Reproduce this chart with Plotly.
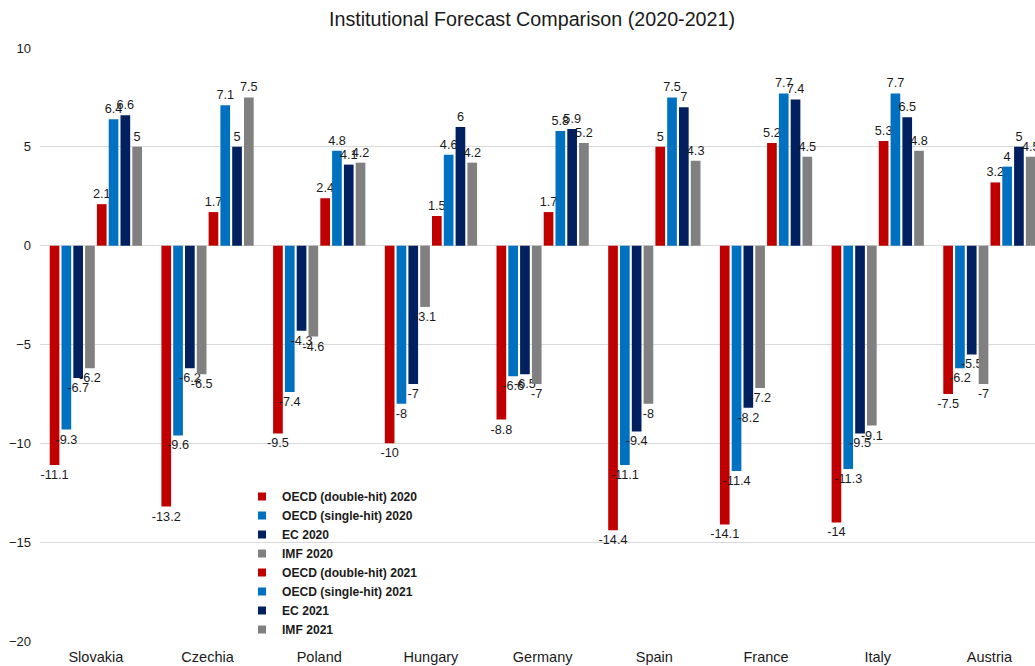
import plotly.graph_objects as go

countries = ["Slovakia", "Czechia", "Poland", "Hungary", "Germany", "Spain", "France", "Italy", "Austria"]

oecd_dh_2020 = [-11.1, -13.2, -9.5, -10, -8.8, -14.4, -14.1, -14, -7.5]
oecd_sh_2020 = [-9.3, -9.6, -7.4, -8, -6.6, -11.1, -11.4, -11.3, -6.2]
ec_2020 = [-6.7, -6.2, -4.3, -7, -6.5, -9.4, -8.2, -9.5, -5.5]
imf_2020 = [-6.2, -6.5, -4.6, -3.1, -7, -8, -7.2, -9.1, -7]
oecd_dh_2021 = [2.1, 1.7, 2.4, 1.5, 1.7, 5, 5.2, 5.3, 3.2]
oecd_sh_2021 = [6.4, 7.1, 4.8, 4.6, 5.8, 7.5, 7.7, 7.7, 4]
ec_2021 = [6.6, 5, 4.1, 6, 5.9, 7, 7.4, 6.5, 5]
imf_2021 = [5, 7.5, 4.2, 4.2, 5.2, 4.3, 4.5, 4.8, 4.5]

series = [
    ("OECD (double-hit) 2020", oecd_dh_2020, "#C00000"),
    ("OECD (single-hit) 2020", oecd_sh_2020, "#0070C0"),
    ("EC 2020", ec_2020, "#002060"),
    ("IMF 2020", imf_2020, "#808080"),
    ("OECD (double-hit) 2021", oecd_dh_2021, "#C00000"),
    ("OECD (single-hit) 2021", oecd_sh_2021, "#0070C0"),
    ("EC 2021", ec_2021, "#002060"),
    ("IMF 2021", imf_2021, "#808080"),
]

FONT = "Liberation Sans, Arial, sans-serif"

fig = go.Figure()
for name, vals, color in series:
    fig.add_trace(go.Bar(
        name=name,
        x=countries,
        y=vals,
        marker=dict(color=color, line=dict(width=0)),
        text=[f"{v:g}" for v in vals],
        textposition="outside",
        constraintext="none",
        cliponaxis=False,
        textfont=dict(family=FONT, size=12.7, color="#1a1a1a"),
        showlegend=False,
        legendgroup=name,
    ))

# legend entries with small square swatches (same names/colours as the bars)
for name, vals, color in series:
    fig.add_trace(go.Scatter(
        name=name,
        x=[None],
        y=[None],
        mode="markers",
        marker=dict(symbol="square", size=8, color=color),
        legendgroup=name,
        showlegend=True,
        hoverinfo="skip",
    ))

fig.update_layout(
    width=1035,
    height=666,
    margin=dict(l=40, r=0, t=48, b=25),
    paper_bgcolor="white",
    plot_bgcolor="white",
    barmode="group",
    bargap=0.155,
    bargroupgap=0.18,
    title=dict(
        text="Institutional Forecast Comparison (2020-2021)",
        x=532 / 1035,
        xanchor="center",
        y=1 - 19 / 666,
        yanchor="middle",
        font=dict(family=FONT, size=19.7, color="#1a1a1a"),
    ),
    font=dict(family=FONT, color="#1a1a1a"),
    showlegend=True,
    legend=dict(
        x=(242 - 40) / 995,
        xanchor="left",
        y=1 - (482 - 48) / 593,
        yanchor="top",
        bgcolor="rgba(0,0,0,0)",
        font=dict(family=FONT, size=12.1, color="#1a1a1a", weight="bold"),
        itemwidth=30,
        tracegroupgap=0,
    ),
    xaxis=dict(
        range=[-0.5, 8.408],
        showgrid=False,
        showline=False,
        ticks="",
        ticklabelstandoff=5,
        tickfont=dict(family=FONT, size=14.5, color="#1a1a1a"),
        automargin=False,
    ),
    yaxis=dict(
        range=[-20, 10],
        tickvals=[-20, -15, -10, -5, 0, 5, 10],
        showgrid=True,
        gridcolor="#d9d9d9",
        gridwidth=1,
        zeroline=True,
        zerolinecolor="#d9d9d9",
        zerolinewidth=1,
        showline=False,
        ticks="",
        ticklabelstandoff=8,
        tickfont=dict(family=FONT, size=13, color="#1a1a1a"),
        automargin=False,
    ),
)

fig.write_html("out.html")
